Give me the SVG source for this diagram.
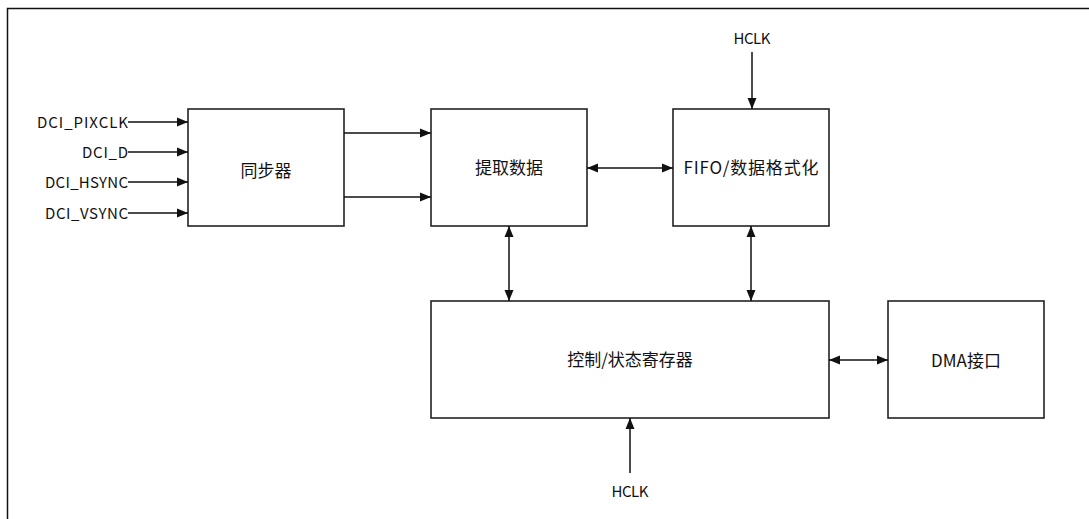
<svg xmlns="http://www.w3.org/2000/svg" width="1089" height="519" viewBox="0 0 1089 519">
<style>
.box{fill:#fff;stroke:#222;stroke-width:1.6}
.ln{fill:none;stroke:#111;stroke-width:1.5}
.lbl{font-family:"Noto Sans CJK SC","Noto Sans",sans-serif;font-size:15px;fill:#111}
.cn{font-family:"Noto Sans CJK SC",sans-serif;font-size:17px;fill:#111;text-anchor:middle}
</style>
<defs>
<marker id="ah" markerUnits="userSpaceOnUse" markerWidth="12" markerHeight="10" viewBox="0 0 12 10" refX="11" refY="5" orient="auto-start-reverse">
<path d="M0,0.5 L11,5 L0,9.5 z" fill="#111"/>
</marker>
</defs>
<rect x="7.5" y="8.5" width="1100" height="530" fill="none" stroke="#111" stroke-width="1.5"/>
<g id="sync"><rect class="box" x="188" y="109" width="156" height="117"/><text class="cn" x="266" y="177">同步器</text></g>
<g id="extract"><rect class="box" x="431" y="109" width="156" height="117"/><text class="cn" x="509" y="174">提取数据</text></g>
<g id="fifo"><rect class="box" x="673" y="109" width="156" height="117"/><text class="cn" x="751" y="174" textLength="135">FIFO/数据格式化</text></g>
<g id="ctrl"><rect class="box" x="431" y="301" width="398" height="117"/><text class="cn" x="630" y="366">控制/状态寄存器</text></g>
<g id="dma"><rect class="box" x="888" y="301" width="156" height="117"/><text class="cn" x="966" y="367">DMA接口</text></g>
<g id="labels">
<text class="lbl" x="128" y="128" text-anchor="end" textLength="91">DCI_PIXCLK</text>
<text class="lbl" x="128" y="158" text-anchor="end" textLength="46">DCI_D</text>
<text class="lbl" x="128" y="188" text-anchor="end" textLength="83">DCI_HSYNC</text>
<text class="lbl" x="128" y="219" text-anchor="end" textLength="83">DCI_VSYNC</text>
<text class="lbl" x="752" y="44" text-anchor="middle" textLength="37">HCLK</text>
<text class="lbl" x="630" y="497" text-anchor="middle" textLength="37">HCLK</text>
</g>
<g id="connectors">
<line class="ln" x1="128" y1="122" x2="188" y2="122" marker-end="url(#ah)"/>
<line class="ln" x1="128" y1="152" x2="188" y2="152" marker-end="url(#ah)"/>
<line class="ln" x1="128" y1="182" x2="188" y2="182" marker-end="url(#ah)"/>
<line class="ln" x1="128" y1="213" x2="188" y2="213" marker-end="url(#ah)"/>
<line class="ln" x1="344" y1="133" x2="431" y2="133" marker-end="url(#ah)"/>
<line class="ln" x1="344" y1="197" x2="431" y2="197" marker-end="url(#ah)"/>
<line class="ln" x1="587" y1="168" x2="673" y2="168" marker-start="url(#ah)" marker-end="url(#ah)"/>
<line class="ln" x1="752" y1="52" x2="752" y2="109" marker-end="url(#ah)"/>
<line class="ln" x1="509" y1="226" x2="509" y2="301" marker-start="url(#ah)" marker-end="url(#ah)"/>
<line class="ln" x1="751" y1="226" x2="751" y2="301" marker-start="url(#ah)" marker-end="url(#ah)"/>
<line class="ln" x1="829" y1="360" x2="888" y2="360" marker-start="url(#ah)" marker-end="url(#ah)"/>
<line class="ln" x1="630" y1="473" x2="630" y2="418" marker-end="url(#ah)"/>
</g>
</svg>
